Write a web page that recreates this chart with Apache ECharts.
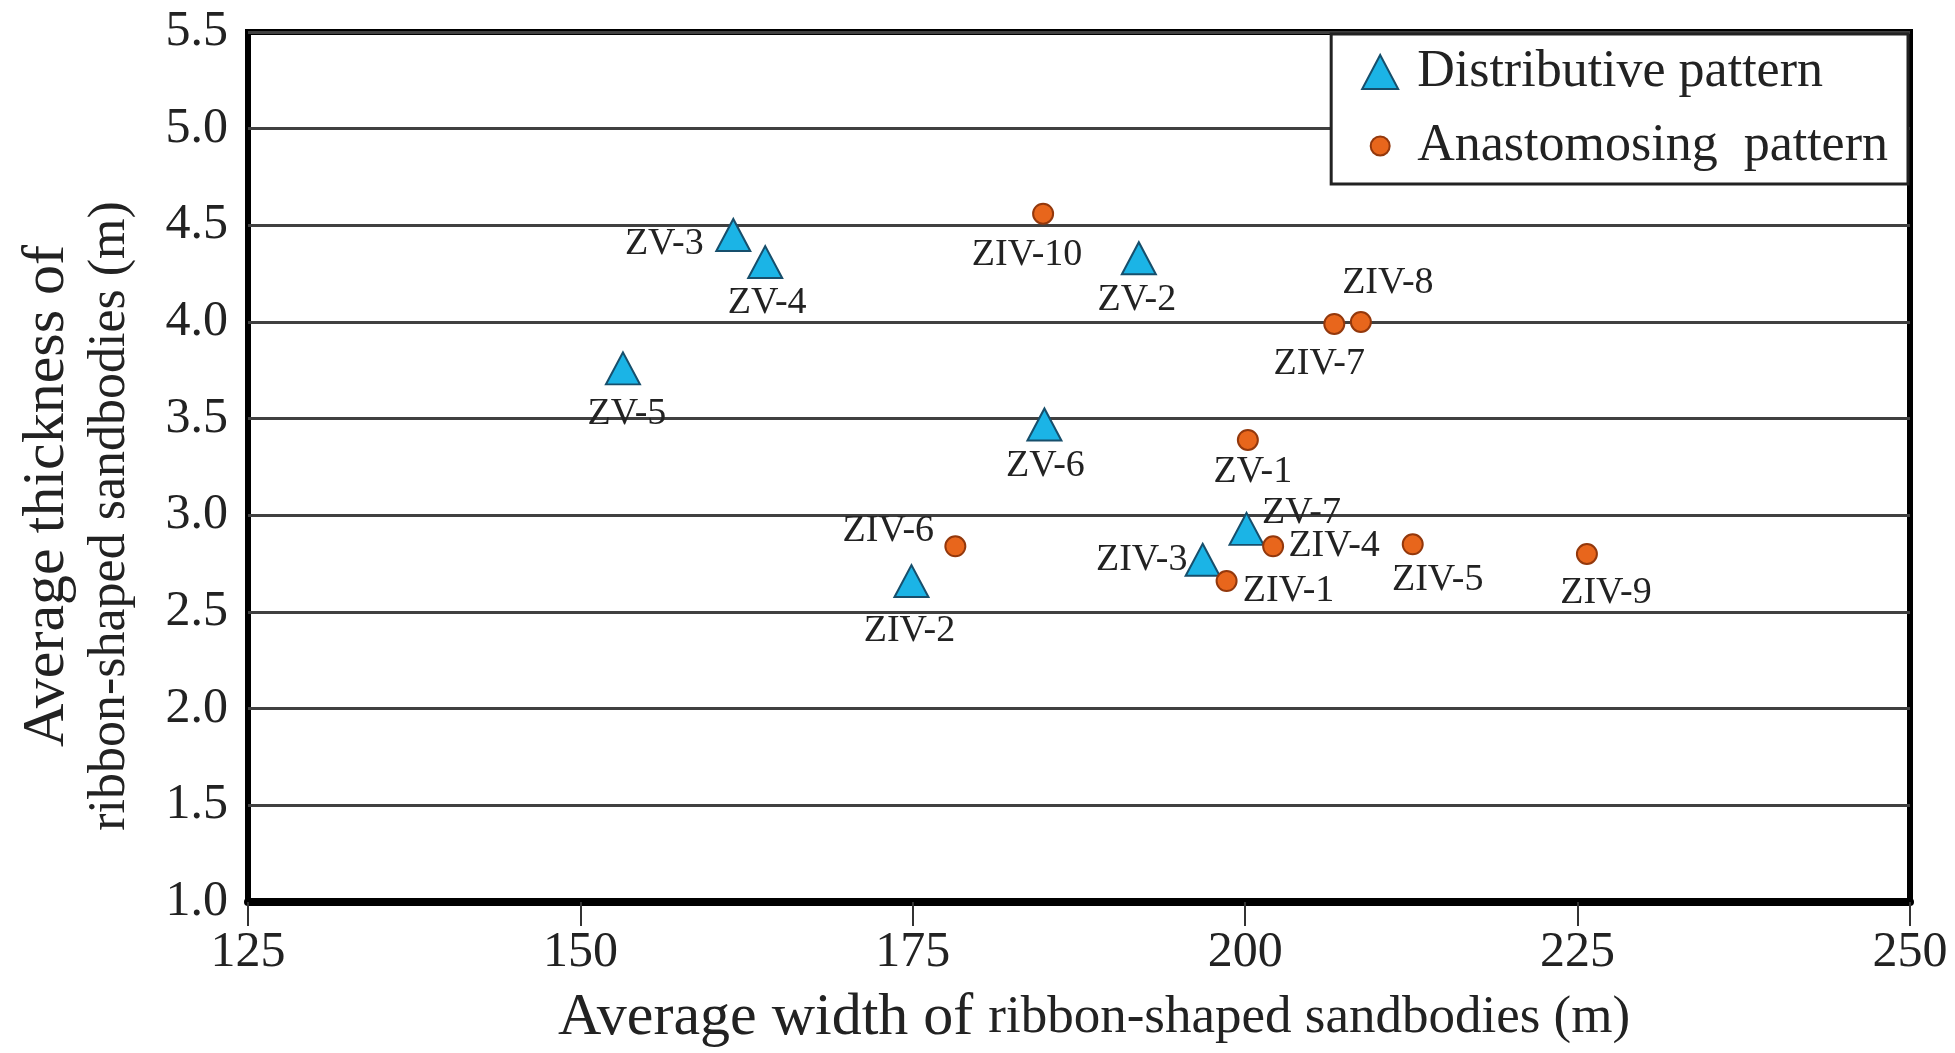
<!DOCTYPE html>
<html><head><meta charset="utf-8">
<script src="https://cdn.jsdelivr.net/npm/echarts/dist/echarts.min.js"></script>
<style>html,body{margin:0;padding:0;background:#fff}#c{width:1955px;height:1053px}</style>
</head><body><div id="c"></div>
<script>
// ---- data ----
const distNames = ['ZV-3','ZV-4','ZV-5','ZV-2','ZV-6','ZV-7','ZIV-3','ZIV-2'];
const distWidth = [161.5,163.9,153.2,192.0,184.9,200.1,196.8,174.9];
const distThick = [4.45,4.31,3.76,4.33,3.47,2.93,2.77,2.66];
const anaNames = ['ZIV-10','ZIV-7','ZIV-8','ZV-1','ZIV-6','ZIV-4','ZIV-1','ZIV-5','ZIV-9'];
const anaWidth = [184.8,206.7,208.7,200.2,178.2,202.1,198.6,212.6,225.7];
const anaThick = [4.56,3.99,4.00,3.39,2.84,2.84,2.66,2.85,2.80];
const xTickLabels = ['125','150','175','200','225','250'];
const yTickLabels = ['1.0','1.5','2.0','2.5','3.0','3.5','4.0','4.5','5.0','5.5'];
const seriesNames = ['Distributive pattern','Anastomosing  pattern'];

// ---- label placement (style) ----
const labelOffset = {
  'ZV-3':[-69,9], 'ZV-4':[2,41], 'ZV-5':[4,46], 'ZV-2':[-2,42], 'ZV-6':[1,42],
  'ZV-7':[55,-16], 'ZIV-3':[-61,0], 'ZIV-2':[-2,50],
  'ZIV-10':[-16,41], 'ZIV-7':[-15,40], 'ZIV-8':[27,-39], 'ZV-1':[5,32],
  'ZIV-6':[-67,-15], 'ZIV-4':[61,0], 'ZIV-1':[62,10], 'ZIV-5':[25,36], 'ZIV-9':[19,39]
};
const FONT = "'Liberation Serif', 'Times New Roman', serif";

function build(names, xs, ys) {
  return names.map((n, i) => ({
    name: n, value: [xs[i], ys[i]],
    label: { offset: labelOffset[n] }
  }));
}
function labelBase() {
  return {
    show: true, position: 'inside', formatter: p => p.name,
    color: '#222', fontFamily: FONT, fontSize: 38, align: 'center', verticalAlign: 'middle'
  };
}

const chart = echarts.init(document.getElementById('c'), null, {renderer: 'canvas'});
chart.setOption({
  animation: false,
  backgroundColor: '#fff',
  textStyle: { fontFamily: FONT, color: '#222' },
  grid: { left: 248, right: 45, top: 32, bottom: 151, show: true, borderColor: '#000', borderWidth: 6,
          containLabel: false, outerBoundsMode: 'none' },
  legend: {
    orient: 'vertical', right: 47, top: 34,
    padding: [10, 20, 10, 30], itemGap: 18, itemWidth: 36, itemHeight: 34,
    backgroundColor: '#fff', borderColor: '#222', borderWidth: 3, borderRadius: 0,
    textStyle: { fontFamily: FONT, fontSize: 52, color: '#222', lineHeight: 56, padding: [0, 0, 0, 14] },
    data: [
      { name: seriesNames[0], icon: 'triangle' },
      { name: seriesNames[1], icon: 'path://M0,0M36,34M8.5,17a9.5,9.5 0 1,0 19,0a9.5,9.5 0 1,0 -19,0z' }
    ]
  },
  xAxis: {
    type: 'value', min: 125, max: 250, interval: 25,
    axisLine: { show: true, lineStyle: { color: '#000', width: 8 } },
    axisTick: { show: true, inside: false, length: 24, lineStyle: { color: '#333', width: 2 } },
    axisLabel: { margin: 26, fontFamily: FONT, fontSize: 50, color: '#222',
                 formatter: v => xTickLabels[Math.round((v - 125) / 25)] },
    splitLine: { show: false },
    name: '{a|Average width of }{b|ribbon-shaped sandbodies (m)}',
    nameLocation: 'middle', nameGap: 86,
    nameTextStyle: { padding: [0, 0, 0, 30],
      rich: { a: { fontFamily: FONT, fontSize: 60, color: '#222' },
              b: { fontFamily: FONT, fontSize: 53, color: '#222' } } }
  },
  yAxis: {
    type: 'value', min: 1.0, max: 5.5, interval: 0.5,
    axisLine: { show: false }, axisTick: { show: false },
    axisLabel: { margin: 20, fontFamily: FONT, fontSize: 50, color: '#222',
                 formatter: v => yTickLabels[Math.round((v - 1) / 0.5)] },
    splitLine: { show: true, lineStyle: { color: '#404040', width: 3 } }
  },
  graphic: [
    { type: 'text', x: 47, y: 496, rotation: Math.PI / 2,
      style: { text: 'Average thickness of', font: "60px 'Liberation Serif'", fill: '#222',
               align: 'center', verticalAlign: 'middle' } },
    { type: 'text', x: 110, y: 516, rotation: Math.PI / 2,
      style: { text: 'ribbon-shaped sandbodies (m)', font: "52px 'Liberation Serif'", fill: '#222',
               align: 'center', verticalAlign: 'middle' } }
  ],
  series: [
    { name: seriesNames[0], type: 'scatter', symbol: 'triangle', symbolSize: [34, 32],
      itemStyle: { color: '#1bb4e6', borderColor: '#174f6c', borderWidth: 2, opacity: 1 },
      label: labelBase(), data: build(distNames, distWidth, distThick), z: 3 },
    { name: seriesNames[1], type: 'scatter', symbol: 'circle', symbolSize: 20,
      itemStyle: { color: '#e8661c', borderColor: '#93380c', borderWidth: 2, opacity: 1 },
      label: labelBase(), data: build(anaNames, anaWidth, anaThick), z: 4 }
  ]
});
</script></body></html>
